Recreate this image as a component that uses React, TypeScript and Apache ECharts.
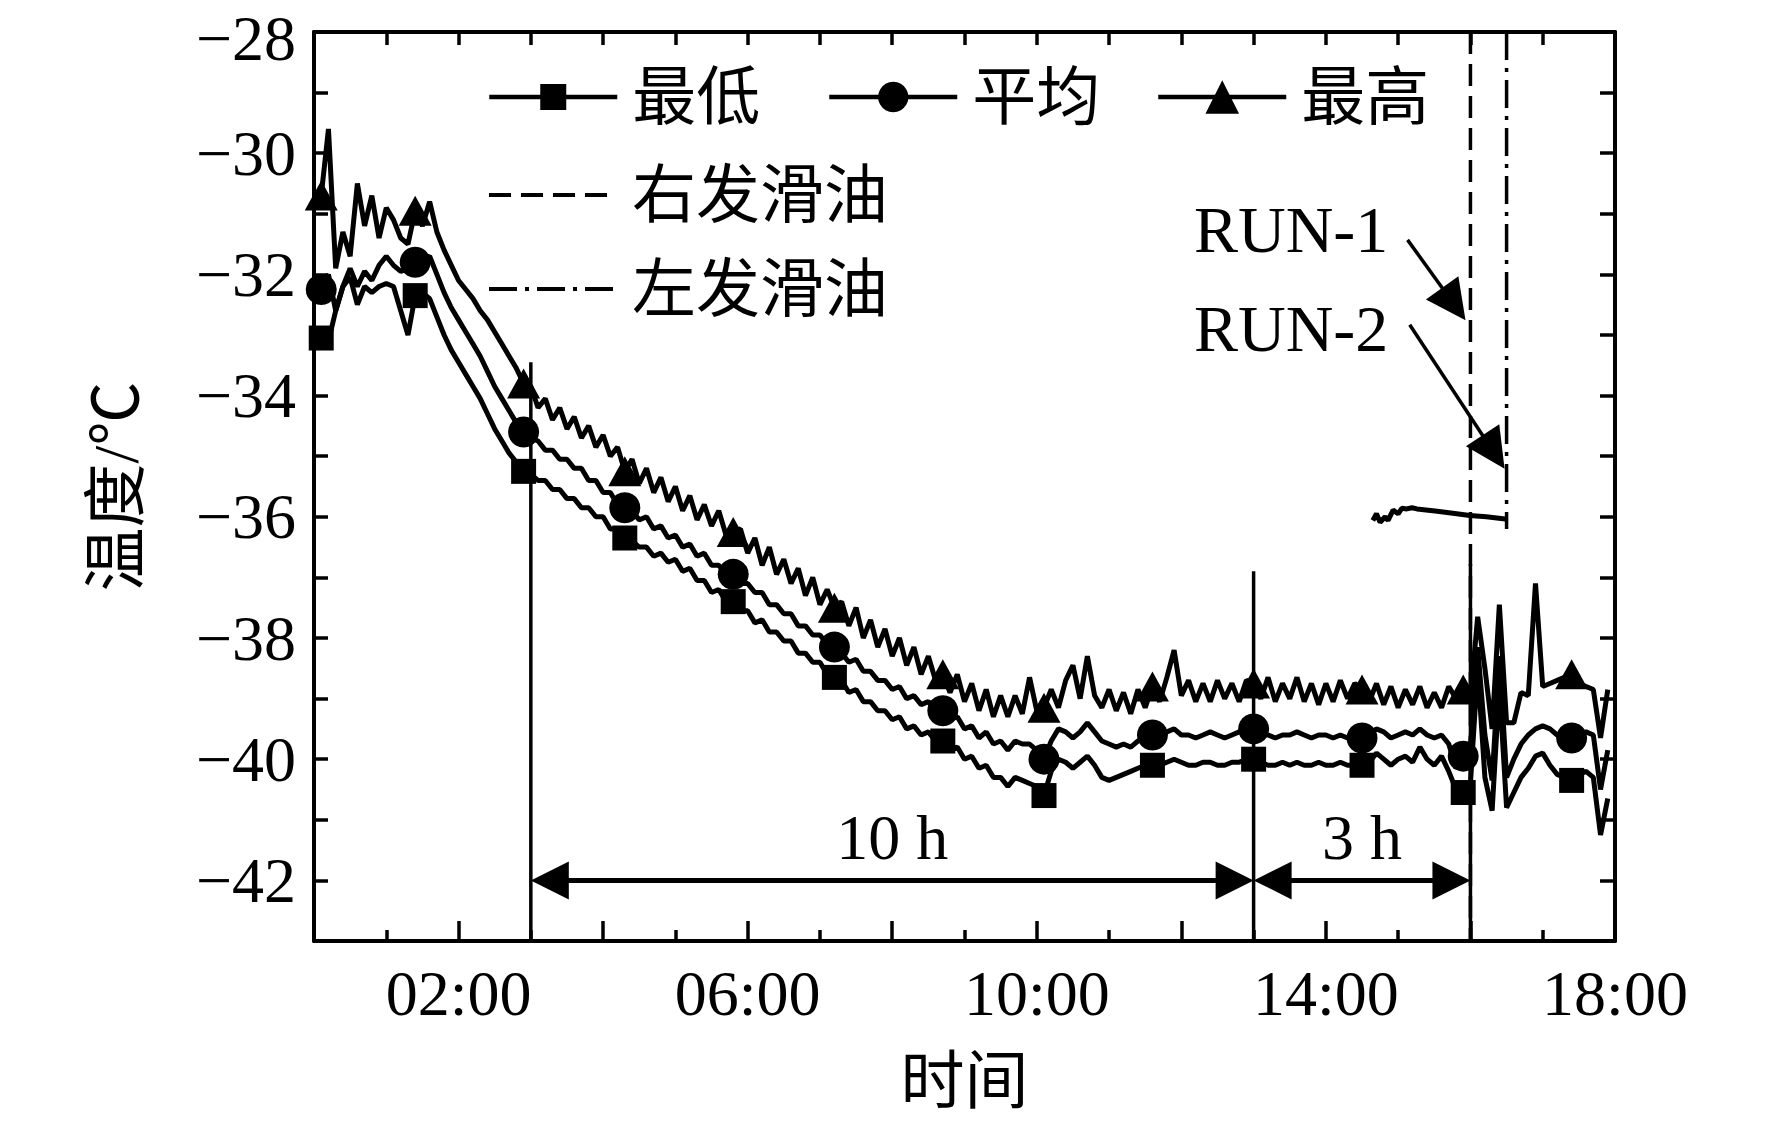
import React, { useEffect, useRef } from 'react';
import * as echarts from 'echarts';

const FONT = '"Liberation Serif", "Times New Roman", "Noto Sans CJK SC", serif';

// time axis (hours)
const TIMES = [
  0.0, 0.1, 0.2, 0.3, 0.4, 0.5, 0.6, 0.7, 0.8, 0.9,
  1.0, 1.1, 1.2, 1.3, 1.4, 1.5, 1.6, 1.7, 1.8, 1.9,
  2.0, 2.1, 2.2, 2.3, 2.4, 2.5, 2.6, 2.7, 2.8, 2.9,
  3.0, 3.1, 3.2, 3.3, 3.4, 3.5, 3.6, 3.7, 3.8, 3.9,
  4.0, 4.1, 4.2, 4.3, 4.4, 4.5, 4.6, 4.7, 4.8, 4.9,
  5.0, 5.1, 5.2, 5.3, 5.4, 5.5, 5.6, 5.7, 5.8, 5.9,
  6.0, 6.1, 6.2, 6.3, 6.4, 6.5, 6.6, 6.7, 6.8, 6.9,
  7.0, 7.1, 7.2, 7.3, 7.4, 7.5, 7.6, 7.7, 7.8, 7.9,
  8.0, 8.1, 8.2, 8.3, 8.4, 8.5, 8.6, 8.7, 8.8, 8.9,
  9.0, 9.1, 9.2, 9.3, 9.4, 9.5, 9.6, 9.7, 9.8, 9.9,
  10.0, 10.1, 10.2, 10.3, 10.4, 10.5, 10.6, 10.7, 10.8, 10.9,
  11.0, 11.1, 11.2, 11.3, 11.4, 11.5, 11.6, 11.7, 11.8, 11.9,
  12.0, 12.1, 12.2, 12.3, 12.4, 12.5, 12.6, 12.7, 12.8, 12.9,
  13.0, 13.1, 13.2, 13.3, 13.4, 13.5, 13.6, 13.7, 13.8, 13.9,
  14.0, 14.1, 14.2, 14.3, 14.4, 14.5, 14.6, 14.7, 14.8, 14.9,
  15.0, 15.1, 15.2, 15.3, 15.4, 15.5, 15.6, 15.7, 15.8, 15.9,
  16.0, 16.1, 16.2, 16.3, 16.4, 16.5, 16.6, 16.7, 16.8, 16.9,
  17.0, 17.1, 17.2, 17.3, 17.4, 17.5, 17.6, 17.7, 17.8, 17.9,
];

// 最高
const MAX_VALUES = [
  -30.9, -30.7, -29.6, -31.9, -31.3, -31.7, -30.5, -31.2, -30.7, -31.4,
  -30.9, -31.1, -31.4, -31.5, -30.95, -31.2, -30.8, -31.3, -31.6, -31.85,
  -32.1, -32.25, -32.4, -32.6, -32.75, -32.95, -33.15, -33.35, -33.55, -33.8,
  -33.85, -34.2, -34.05, -34.4, -34.2, -34.55, -34.35, -34.7, -34.5, -34.85,
  -34.65, -35.0, -34.85, -35.25, -35.05, -35.45, -35.2, -35.6, -35.35, -35.75,
  -35.5, -35.9, -35.65, -36.05, -35.8, -36.15, -35.9, -36.3, -36.25, -36.2,
  -36.6, -36.35, -36.8, -36.5, -36.95, -36.7, -37.1, -36.85, -37.3, -37.0,
  -37.45, -37.2, -37.5, -37.4, -37.8, -37.5, -38.0, -37.7, -38.15, -37.85,
  -38.3, -38.0, -38.45, -38.15, -38.6, -38.3, -38.7, -38.6, -38.9, -38.6,
  -39.05, -38.75, -39.2, -38.85, -39.3, -38.95, -39.3, -38.95, -39.25, -38.65,
  -39.2, -39.15, -38.85, -39.15, -38.7, -38.45, -39.0, -38.3, -38.95, -39.15,
  -38.85, -39.2, -38.9, -39.25, -38.85, -39.15, -38.8, -39.05, -38.65, -38.2,
  -38.95, -38.7, -39.05, -38.75, -39.05, -38.7, -39.0, -38.75, -39.05, -38.7,
  -38.75, -39.0, -38.65, -39.05, -38.75, -39.0, -38.65, -39.05, -38.75, -39.1,
  -38.75, -39.05, -38.7, -39.0, -38.75, -38.85, -39.05, -38.75, -39.1, -38.8,
  -39.15, -38.85, -39.1, -38.8, -39.15, -38.9, -39.15, -38.8, -39.0, -38.85,
  -39.0, -37.65, -38.5, -39.5, -37.45, -39.4, -39.4, -38.9, -38.95, -37.1,
  -38.8, -38.75, -38.7, -38.65, -38.6, -38.75, -38.8, -38.85, -39.65, -38.85,
];

// 平均
const AVG_VALUES = [
  -32.3, -32.25, -32.0, -32.6, -32.2, -31.9, -32.2, -31.95, -32.1, -31.85,
  -31.7, -31.85, -31.95, -31.9, -31.8, -31.75, -31.7, -32.0, -32.3, -32.55,
  -32.75, -32.95, -33.15, -33.35, -33.6, -33.85, -34.05, -34.25, -34.45, -34.6,
  -34.7, -34.75, -34.9, -34.9, -35.05, -35.05, -35.2, -35.2, -35.4, -35.4,
  -35.6, -35.6, -35.8, -35.85, -35.9, -36.05, -36.0, -36.2, -36.15, -36.35,
  -36.3, -36.5, -36.45, -36.65, -36.6, -36.8, -36.8, -36.95, -36.95, -37.1,
  -37.1, -37.25, -37.25, -37.45, -37.45, -37.6, -37.6, -37.8, -37.8, -37.95,
  -37.95, -38.1, -38.15, -38.25, -38.4, -38.35, -38.55, -38.55, -38.7, -38.7,
  -38.85, -38.8, -39.0, -38.95, -39.1, -39.05, -39.2, -39.2, -39.35, -39.3,
  -39.5, -39.45, -39.65, -39.55, -39.75, -39.7, -39.85, -39.7, -39.75, -39.75,
  -39.85, -40.0, -39.7, -39.5, -39.55, -39.65, -39.55, -39.4, -39.55, -39.7,
  -39.75, -39.8, -39.75, -39.8, -39.7, -39.65, -39.6, -39.65, -39.55, -39.5,
  -39.6, -39.6, -39.65, -39.6, -39.55, -39.6, -39.65, -39.6, -39.55, -39.55,
  -39.5, -39.6, -39.6, -39.65, -39.6, -39.6, -39.55, -39.6, -39.65, -39.6,
  -39.6, -39.65, -39.6, -39.65, -39.65, -39.65, -39.6, -39.5, -39.55, -39.65,
  -39.6, -39.55, -39.6, -39.5, -39.6, -39.65, -39.6, -39.75, -40.15, -39.95,
  -39.8, -38.15, -39.6, -40.35, -38.3, -40.3, -40.0, -39.75, -39.6, -39.5,
  -39.45, -39.5, -39.6, -39.65, -39.65, -39.6, -39.55, -39.6, -40.5, -39.85,
];

// 最低
const MIN_VALUES = [
  -33.05, -33.05, -33.1, -32.6, -32.2, -32.05, -32.5, -32.2, -32.3, -32.2,
  -32.15, -32.2, -32.6, -33.0, -32.35, -32.3, -32.4, -32.7, -33.0, -33.25,
  -33.45, -33.65, -33.85, -34.05, -34.3, -34.55, -34.75, -34.95, -35.1, -35.25,
  -35.3, -35.4, -35.4, -35.55, -35.55, -35.7, -35.7, -35.85, -35.85, -36.0,
  -36.0, -36.2, -36.2, -36.35, -36.4, -36.5, -36.5, -36.65, -36.6, -36.75,
  -36.7, -36.9, -36.85, -37.05, -37.05, -37.25, -37.2, -37.4, -37.4, -37.55,
  -37.55, -37.75, -37.7, -37.9, -37.9, -38.05, -38.05, -38.25, -38.25, -38.4,
  -38.4, -38.6, -38.65, -38.7, -38.9, -38.85, -39.05, -39.05, -39.2, -39.2,
  -39.35, -39.3, -39.5, -39.45, -39.6, -39.55, -39.7, -39.7, -39.85, -39.8,
  -40.0, -39.95, -40.15, -40.1, -40.3, -40.3, -40.45, -40.3, -40.35, -40.4,
  -40.45, -40.6, -40.2, -40.0, -40.05, -40.15, -40.05, -39.95, -40.1, -40.3,
  -40.35, -40.3, -40.25, -40.2, -40.15, -40.1, -40.1, -40.1, -40.05, -40.0,
  -40.05, -40.1, -40.1, -40.05, -40.05, -40.1, -40.1, -40.05, -40.05, -40.0,
  -40.0, -40.05, -40.1, -40.1, -40.05, -40.1, -40.05, -40.1, -40.1, -40.05,
  -40.1, -40.1, -40.05, -40.1, -40.1, -40.1, -40.05, -39.9, -40.0, -40.1,
  -40.0, -39.95, -40.05, -39.8, -40.0, -40.1, -39.95, -40.2, -40.5, -40.55,
  -40.4, -38.5, -40.3, -40.85, -38.8, -40.8, -40.55, -40.3, -40.15, -39.95,
  -39.9, -40.1, -40.25, -40.3, -40.35, -40.25, -40.2, -40.3, -41.25, -40.65,
];

// indices of data points that carry a marker symbol
const MARKER_IDX = [1, 14, 29, 43, 58, 72, 87, 101, 116, 130, 145, 159, 174];

// short isolated trace near -36 °C
const TRACE_T = [14.65, 14.7, 14.75, 14.82, 14.86, 14.93, 15.0, 15.05, 15.12, 15.19, 15.26, 15.54, 15.81, 15.99, 16.22, 16.51];
const TRACE_V = [-36.06, -35.95, -36.09, -36.0, -36.06, -35.89, -35.95, -35.86, -35.87, -35.85, -35.87, -35.91, -35.95, -35.98, -36.0, -36.04];

// vertical reference lines
const RIGHT_OIL = [[16.0, -28], [16.0, -43]];
const LEFT_OIL = [[16.5, -28], [16.5, -36.2]];
const GUIDES = [
  [3.0, -33.45],
  [13.0, -36.9],
  [16.0, -36.78],
];

// axis tick label settings
const X_LABEL_HOURS = [2, 6, 10, 14, 18];

const withMarkers = (vals: number[]) =>
  TIMES.map((t, i) =>
    MARKER_IDX.includes(i) ? { value: [t, vals[i]] } : { value: [t, vals[i]], symbol: 'none' }
  );

const BLACK = '#000';
const DATA_W = 5;

export default function App() {
  const ref = useRef<HTMLDivElement>(null);

  useEffect(() => {
    document.body.style.margin = '0';
    if (!ref.current) return;
    const chart = echarts.init(ref.current, undefined, { renderer: 'svg' });

    const axisLine = { show: true, onZero: false, lineStyle: { color: BLACK, width: 4 } };
    const legendBase: any = {
      orient: 'horizontal',
      padding: 0,
      itemWidth: 128,
      selectedMode: false,
      textStyle: { fontFamily: FONT, fontSize: 64, color: BLACK, lineHeight: 64, padding: [0, 0, 0, 10] },
      lineStyle: { width: 4.5 },
    };

    const guideSeries = GUIDES.map((g, i) => ({
      name: 'guide' + i,
      type: 'line',
      data: [[g[0], -43], [g[0], g[1]]],
      symbol: 'none',
      lineStyle: { color: BLACK, width: 3.5 },
      silent: true,
      z: 1,
    }));

    const option: any = {
      animation: false,
      backgroundColor: '#fff',
      textStyle: { fontFamily: FONT, color: BLACK },
      grid: { left: 314, right: 157, top: 32, bottom: 185, containLabel: false, outerBoundsMode: 'none' },
      legend: [
        { ...legendBase, data: ['最低'], left: 487, top: 65, itemHeight: 32.5 },
        { ...legendBase, data: ['平均'], left: 827, top: 65, itemHeight: 38 },
        { ...legendBase, data: ['最高'], left: 1156, top: 65, itemHeight: 42 },
        {
          ...legendBase, data: ['右发滑油'], left: 487, top: 163, itemHeight: 20,
          lineStyle: { width: 4, type: [22, 10] }, itemStyle: { opacity: 0 },
        },
        {
          ...legendBase, data: ['左发滑油'], left: 487, top: 257, itemHeight: 20,
          lineStyle: { width: 4, type: [28, 8, 4, 8] }, itemStyle: { opacity: 0 },
        },
      ],
      xAxis: [
        {
          type: 'value', min: 0, max: 18, interval: 2, position: 'bottom',
          axisLine,
          axisTick: { show: true, inside: true, length: 20, lineStyle: { color: BLACK, width: 3.5 } },
          minorTick: { show: true, splitNumber: 2, length: 11, lineStyle: { color: BLACK, width: 3.5 } },
          splitLine: { show: false },
          minorSplitLine: { show: false },
          axisLabel: {
            margin: 20, fontSize: 64, fontFamily: FONT, color: BLACK,
            formatter: (v: number) => (X_LABEL_HOURS.includes(v) ? String(v).padStart(2, '0') + ':00' : ''),
          },
          name: '时间', nameLocation: 'middle', nameGap: 108, nameMoveOverlap: false,
          nameTextStyle: { fontSize: 64, fontFamily: FONT, color: BLACK },
        },
        {
          type: 'value', min: 0, max: 18, interval: 1, position: 'top',
          axisLine,
          axisTick: { show: true, inside: true, length: 13, lineStyle: { color: BLACK, width: 3.5 } },
          axisLabel: { show: false },
          splitLine: { show: false },
        },
      ],
      yAxis: [
        {
          type: 'value', min: -43, max: -28, interval: 1, position: 'left',
          axisLine,
          axisTick: { show: true, inside: true, length: 14, lineStyle: { color: BLACK, width: 3.5 } },
          splitLine: { show: false },
          axisLabel: {
            margin: 18, fontSize: 64, lineHeight: 48, fontFamily: FONT, color: BLACK,
            formatter: (v: number) => {
              if (v % 2 !== 0) return '';
              const s = '\u2212' + Math.abs(v);
              return v === -28 ? '{top|' + s + '}' : s;
            },
            rich: {
              top: { fontSize: 64, fontFamily: FONT, color: BLACK, padding: [12, 0, 0, 0] },
            },
          },
          name: '温度/℃', nameLocation: 'middle', nameGap: 166, nameMoveOverlap: false,
          nameTextStyle: { fontSize: 64, fontFamily: FONT, color: BLACK },
        },
        {
          type: 'value', min: -43, max: -28, interval: 1, position: 'right',
          axisLine,
          axisTick: { show: true, inside: true, length: 15, lineStyle: { color: BLACK, width: 3.5 } },
          axisLabel: { show: false },
          splitLine: { show: false },
        },
      ],
      series: [
        ...guideSeries,
        {
          name: '右发滑油', type: 'line', data: RIGHT_OIL, symbol: 'none',
          lineStyle: { color: BLACK, width: 3.5, type: [22, 10] }, itemStyle: { color: BLACK, opacity: 0 },
          silent: true, z: 1,
        },
        {
          name: '左发滑油', type: 'line', data: LEFT_OIL, symbol: 'none',
          lineStyle: { color: BLACK, width: 3.5, type: [28, 8, 4, 8] }, itemStyle: { color: BLACK, opacity: 0 },
          silent: true, z: 1,
        },
        {
          name: 'trace', type: 'line', data: TRACE_T.map((t, i) => [t, TRACE_V[i]]), symbol: 'none',
          lineStyle: { color: BLACK, width: DATA_W }, silent: true,
        },
        {
          name: '最低', type: 'line', data: withMarkers(MIN_VALUES), symbol: 'rect', symbolSize: 25,
          showAllSymbol: true, lineStyle: { color: BLACK, width: DATA_W }, itemStyle: { color: BLACK }, z: 3,
        },
        {
          name: '平均', type: 'line', data: withMarkers(AVG_VALUES), symbol: 'circle', symbolSize: 31,
          showAllSymbol: true, lineStyle: { color: BLACK, width: DATA_W }, itemStyle: { color: BLACK }, z: 3,
        },
        {
          name: '最高', type: 'line', data: withMarkers(MAX_VALUES), symbol: 'triangle', symbolSize: [33, 30],
          showAllSymbol: true, lineStyle: { color: BLACK, width: DATA_W }, itemStyle: { color: BLACK }, z: 3,
        },
        {
          name: 'spans', type: 'line', data: [], silent: true,
          markLine: {
            silent: true, symbol: ['triangle', 'triangle'], symbolSize: 38,
            label: { show: false },
            lineStyle: { color: BLACK, width: 5, type: 'solid' },
            itemStyle: { color: BLACK },
            data: [
              [{ coord: [3.263, -42] }, { coord: [12.737, -42] }],
              [{ coord: [13.263, -42] }, { coord: [15.737, -42] }],
            ],
          },
        },
        {
          name: 'runs', type: 'line', data: [], silent: true,
          markLine: {
            silent: true, symbol: ['none', 'triangle'], symbolSize: 40,
            label: { show: false },
            lineStyle: { color: BLACK, width: 3.5, type: 'solid' },
            itemStyle: { color: BLACK },
            data: [
              [{ coord: [15.13, -31.43] }, { coord: [15.77, -32.49] }],
              [{ coord: [15.16, -32.83] }, { coord: [16.32, -34.93] }],
            ],
          },
          markPoint: {
            silent: true, symbol: 'circle', symbolSize: 1,
            itemStyle: { color: 'rgba(0,0,0,0)' },
            label: { show: true, color: BLACK, fontFamily: FONT, fontSize: 64 },
            data: [
              { coord: [8.0, -41.3], label: { position: 'inside', formatter: '10 h' } },
              { coord: [14.5, -41.3], label: { position: 'inside', formatter: '3 h' } },
              { coord: [14.87, -31.26], label: { position: 'left', distance: 0, formatter: 'RUN-1', fontSize: 66 } },
              { coord: [14.87, -32.89], label: { position: 'left', distance: 0, formatter: 'RUN-2', fontSize: 66 } },
            ],
          },
        },
      ],
    };

    chart.setOption(option);
    return () => chart.dispose();
  }, []);

  return <div ref={ref} style={{ width: 1772, height: 1126, background: '#fff' }} />;
}
